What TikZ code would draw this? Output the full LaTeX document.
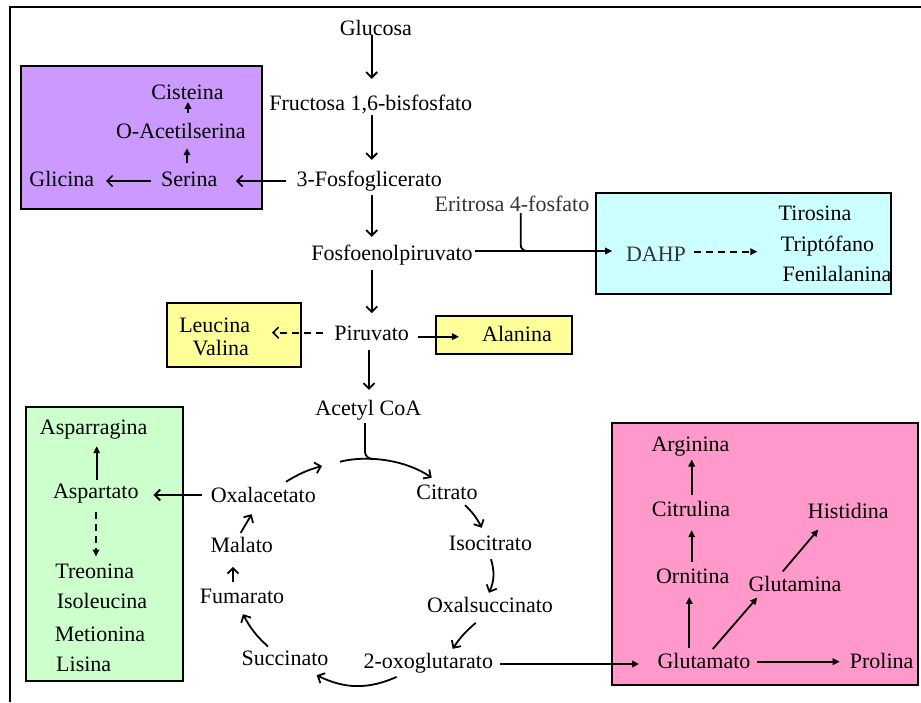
\documentclass[tikz,border=0pt]{standalone}
\usepackage{fontspec}
\setmainfont{Liberation Serif}
\usetikzlibrary{arrows.meta}
\definecolor{cpurple}{HTML}{CC99FF}
\definecolor{ccyan}{HTML}{CCFFFF}
\definecolor{cyellow}{HTML}{FFFF99}
\definecolor{cgreen}{HTML}{CCFFCC}
\definecolor{cpink}{HTML}{FF99CC}
\definecolor{gtext}{HTML}{333333}
\begin{document}
\begin{tikzpicture}[x=1pt,y=-1pt,
  txt/.style={font=\fontsize{22}{26}\selectfont, inner xsep=2pt, inner ysep=0pt, text height=15pt, text depth=5pt, anchor=base},
  gtxt/.style={txt, text=gtext},
  box/.style={draw=black, line width=1.9pt, inner sep=0pt},
  arrV/.style={line width=1.8pt, -{Straight Barb[length=5.5pt,width=11pt]}},
  arrF/.style={line width=1.8pt, -{Triangle[length=7pt,width=6.5pt]}},
  plain/.style={line width=1.8pt},
  dsh/.style={dash pattern=on 7pt off 5pt}
]
\useasboundingbox (0,0) rectangle (921,702);
% outer frame
\draw[line width=2pt] (10,702) -- (10,6.7) -- (921,6.7);

% boxes
\node[box, fill=cpurple, minimum width=241pt, minimum height=143.6pt] (pbox) at (141.2,137.5) {};
\node[box, fill=ccyan, minimum width=295pt, minimum height=100.7pt] (cbox) at (743.5,243.7) {};
\node[box, fill=cyellow, minimum width=134pt, minimum height=64pt] (lbox) at (233.7,335.3) {};
\node[box, fill=cyellow, minimum width=136pt, minimum height=38pt] (abox) at (503.7,335) {};
\node[box, fill=cgreen, minimum width=156.7pt, minimum height=274.3pt] (gbox) at (104.3,543.8) {};
\node[box, fill=cpink, minimum width=306.6pt, minimum height=261.7pt] (kbox) at (765,554.2) {};

% texts
\node[txt] (glu) at (375.8,35) {Glucosa};
\node[txt] (fru) at (370.7,110) {Fructosa 1,6-bisfosfato};
\node[txt] (pfg) at (369.2,186.7) {3-Fosfoglicerato};
\node[txt] (ser) at (189.2,186.7) {Serina};
\node[txt] (gli) at (61.8,186.7) {Glicina};
\node[txt] (oac) at (180.8,138.3) {O-Acetilserina};
\node[txt] (cis) at (187.5,99) {Cisteina};
\node[gtxt] (eri) at (512,211.7) {Eritrosa 4-fosfato};
\node[txt] (pep) at (392,260) {Fosfoenolpiruvato};
\node[gtxt] (dahp) at (656,261.7) {DAHP};
\node[txt] (tir) at (815,220.7) {Tirosina};
\node[txt] (trp) at (827.5,251.7) {Triptófano};
\node[txt] (fen) at (837,281.7) {Fenilalanina};
\node[txt] (pir) at (371.7,340) {Piruvato};
\node[txt] (leu) at (214.7,332.3) {Leucina};
\node[txt] (val) at (220.8,355) {Valina};
\node[txt] (ala) at (517,341.7) {Alanina};
\node[txt] (act) at (368.3,415) {Acetyl CoA};
\node[txt] (cit) at (447,499) {Citrato};
\node[txt] (iso) at (490.5,550) {Isocitrato};
\node[txt] (oxs) at (490,612.7) {Oxalsuccinato};
\node[txt] (oxo) at (428.3,668.3) {2-oxoglutarato};
\node[txt] (suc) at (285,665) {Succinato};
\node[txt] (fum) at (242,603.3) {Fumarato};
\node[txt] (mal) at (241.7,552.7) {Malato};
\node[txt] (oxa) at (263.3,502.7) {Oxalacetato};
\node[txt] (asg) at (93.7,434.3) {Asparragina};
\node[txt] (asp) at (95.8,498.3) {Aspartato};
\node[txt] (tre) at (94.7,578.3) {Treonina};
\node[txt] (ile) at (102,608.3) {Isoleucina};
\node[txt] (met) at (100,641.7) {Metionina};
\node[txt] (lis) at (83.7,671.7) {Lisina};
\node[txt] (arg) at (690.5,451.7) {Arginina};
\node[txt] (ctr) at (691,516.7) {Citrulina};
\node[txt] (orn) at (692.7,583.3) {Ornitina};
\node[txt] (glm) at (795,591.7) {Glutamina};
\node[txt] (his) at (848.3,518.3) {Histidina};
\node[txt] (glt) at (704,668.3) {Glutamato};
\node[txt] (pro) at (881.7,668.3) {Prolina};

% main chain
\draw[arrV] ([xshift=-4.1pt,yshift=5pt]glu.south) -- ([xshift=1pt,yshift=16pt]fru.north);
\draw[arrV] ([xshift=1pt]fru.south) -- ([xshift=2.5pt,yshift=11.7pt]pfg.north);
\draw[arrV] ([xshift=2.5pt,yshift=-3.3pt]pfg.south) -- ([xshift=-20.3pt,yshift=8pt]pep.north);
\draw[arrV] ([xshift=-20.3pt,yshift=-5pt]pep.south) -- ([yshift=11.7pt]pir.north);
\draw[arrV] ([xshift=-2.7pt,yshift=-5pt]pir.south) -- ([xshift=0.7pt,yshift=10pt]act.north);

% purple box
\draw[arrV] ([xshift=-8pt,yshift=0.7pt]pfg.west) -- ([xshift=16.3pt,yshift=0.7pt]ser.east);
\draw[arrV, line width=1.4pt] ([xshift=-8pt,yshift=0.7pt]ser.west) -- ([xshift=9.7pt,yshift=0.7pt]gli.east);
\draw[arrF] ([xshift=-2.2pt,yshift=8.7pt]ser.north) -- ([xshift=6.2pt,yshift=-4.7pt]oac.south);
\draw[arrF] ([xshift=7.2pt,yshift=10.3pt]oac.north) -- ([xshift=0.5pt,yshift=2.3pt]cis.south);

% aromatic
\coordinate (join) at (533,251);
\draw[plain, rounded corners=6pt] ([xshift=8.7pt,yshift=3.7pt]eri.south) |- (join);
\draw[arrF] ([yshift=4pt]pep.east) -- ([xshift=-11.7pt,yshift=5.7pt]dahp.west);
\draw[arrF, dsh] ([xshift=6.3pt,yshift=5pt]dahp.east) -- ([xshift=-21.3pt,yshift=-5pt]trp.west);

% pyruvate
\draw[arrV, dsh, line width=1.6pt] ([xshift=-9.7pt,yshift=2.3pt]pir.west) -- ([xshift=19.7pt,yshift=-5.4pt]leu.east);
\draw[arrF] ([xshift=6.4pt,yshift=-1.7pt]pir.east) -- ([xshift=-21pt]ala.west);

% cycle
\coordinate (ttop) at (322,466);
\coordinate (tarc) at (340,461.7);
\draw[plain] ([xshift=-3.3pt,yshift=-3pt]act.south) -- (365,452) to[out=-90,in=175] (373,459.2);
\draw[arrV] (tarc) .. controls (369,454.5) and (407,460.6) .. ([xshift=-15.3pt,yshift=6pt]cit.north);
\draw[arrV] ([xshift=22.7pt,yshift=5.7pt]oxa.north) to[bend left=8] (ttop);
\draw[arrV] ([xshift=18pt,yshift=-1pt]cit.south) to[bend left=10] ([xshift=-8.8pt,yshift=7pt]iso.north);
\draw[arrV] ([xshift=0.5pt,yshift=-4pt]iso.south) to[bend left=20] ([xshift=-1pt,yshift=4.7pt]oxs.north);
\draw[arrV] ([xshift=-14.3pt,yshift=-5pt]oxs.south) to[bend right=8] ([xshift=24.4pt,yshift=4.3pt]oxo.north);
\draw[arrV] ([xshift=-31.6pt,yshift=-3.4pt]oxo.south) to[bend left=25] ([xshift=31.7pt,yshift=-5pt]suc.south);
\draw[arrV] ([xshift=-17pt,yshift=3.3pt]suc.north) to[bend left=10] ([xshift=1pt,yshift=-5.7pt]fum.south);
\draw[arrV] ([xshift=-9pt,yshift=6.6pt]fum.north) -- ([xshift=-8.7pt,yshift=-9pt]mal.south);
\draw[arrV] ([xshift=-1pt,yshift=4.7pt]mal.north) -- ([xshift=-11.6pt,yshift=-6.3pt]oxa.south);

% green box
\draw[arrV] ([xshift=-7pt,yshift=2.7pt]oxa.west) -- ([xshift=12.7pt,yshift=-1.7pt]asp.east);
\draw[arrF] ([xshift=0.9pt,yshift=3.3pt]asp.north) -- ([xshift=3pt,yshift=-6.7pt]asg.south);
\draw[arrF, dsh] ([xshift=0.2pt,yshift=-8.4pt]asp.south) -- ([xshift=1.3pt,yshift=6.6pt]tre.north);

% pink box
\draw[arrF] ([xshift=4.7pt,yshift=-0.7pt]oxo.east) -- ([xshift=-16.3pt,yshift=-0.7pt]glt.west);
\draw[arrF] ([xshift=4.7pt,yshift=1.6pt]glt.east) -- ([xshift=-8pt,yshift=1.6pt]pro.west);
\draw[arrF] ([xshift=-14.7pt,yshift=5pt]glt.north) -- ([xshift=-3.4pt,yshift=-8.4pt]orn.south);
\draw[arrF] ([xshift=-1pt,yshift=6.6pt]orn.north) -- ([xshift=0.7pt,yshift=-8.3pt]ctr.south);
\draw[arrF] ([xshift=0.7pt,yshift=6.7pt]ctr.north) -- ([xshift=1.2pt,yshift=-2.6pt]arg.south);
\draw[arrF] ([xshift=8.7pt,yshift=4pt]glt.north) -- ([xshift=-37.7pt,yshift=-0.6pt]glm.south);
\draw[arrF] ([xshift=-12.3pt,yshift=5pt]glm.north) -- ([xshift=-30pt,yshift=-6pt]his.south);
\end{tikzpicture}
\end{document}
